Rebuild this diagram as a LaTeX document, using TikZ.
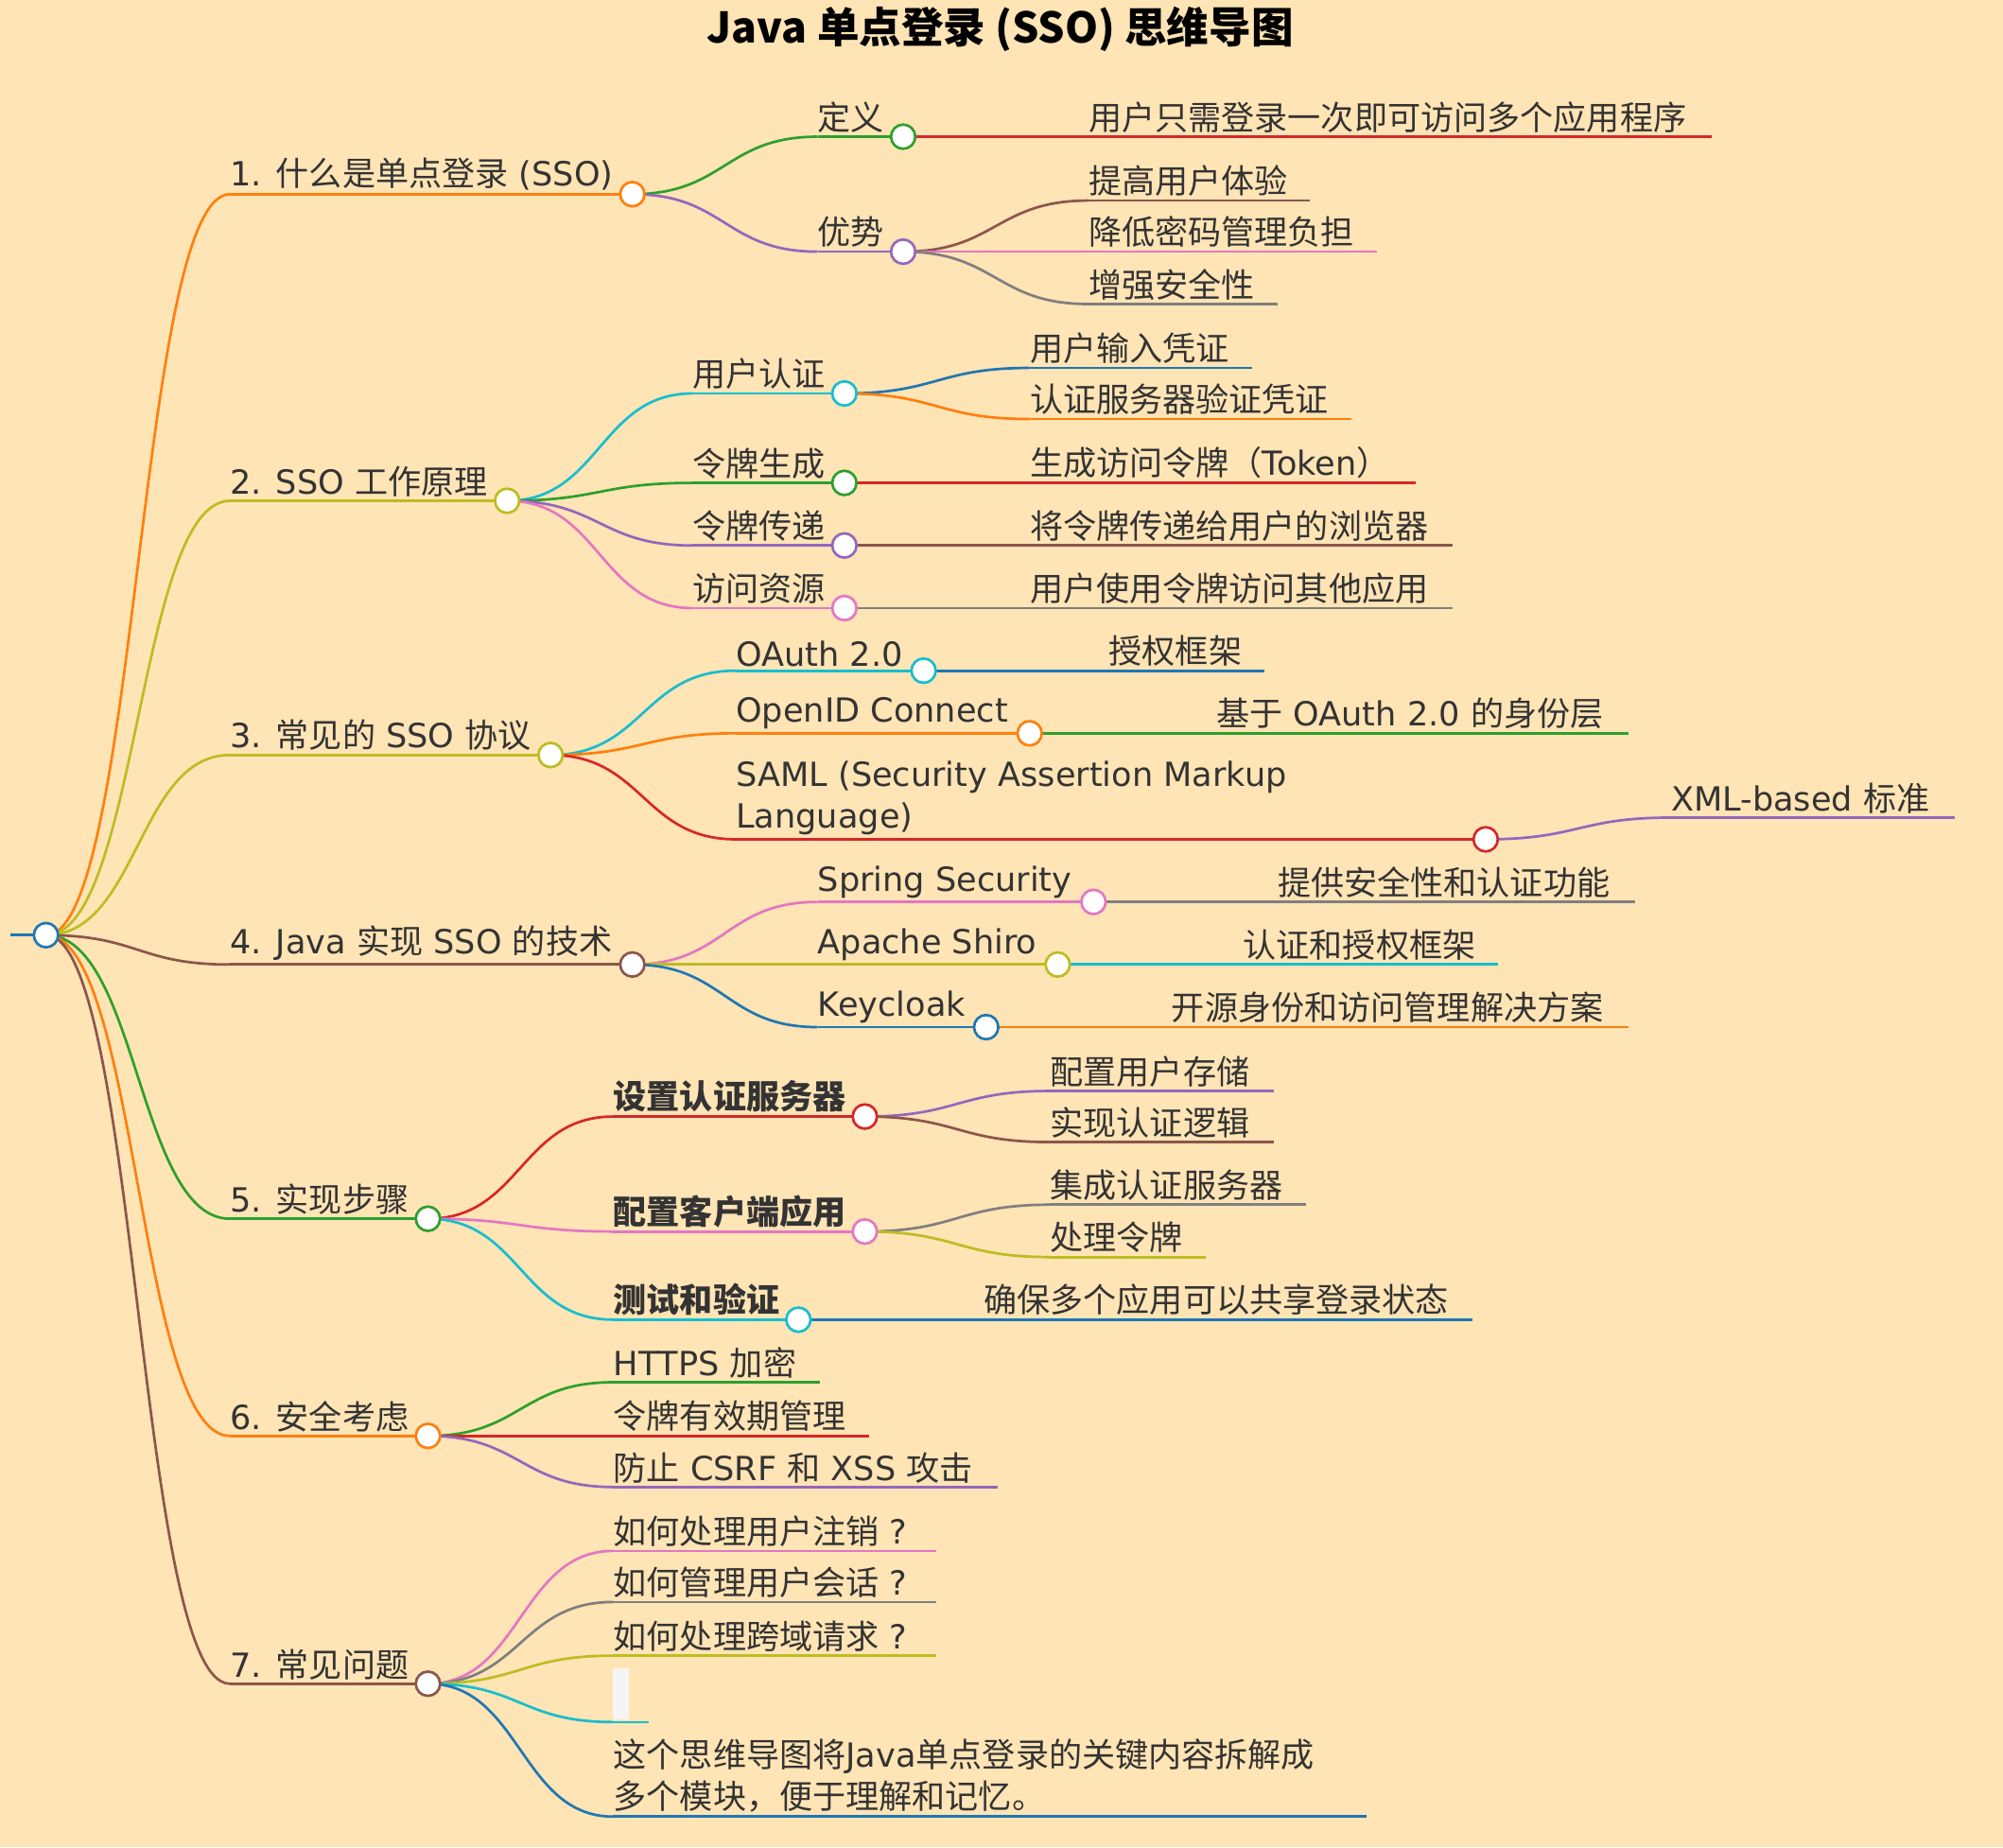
\documentclass[tikz,border=0pt]{standalone}
\usepackage{fontspec}
\usetikzlibrary{calc}
\setmainfont{Noto Sans CJK SC}
\newfontfamily\dv{DejaVu Sans}
\definecolor{bg}{HTML}{FFE4B5}
\definecolor{cB}{HTML}{1F77B4}\definecolor{cO}{HTML}{FF7F0E}\definecolor{cG}{HTML}{2CA02C}
\definecolor{cR}{HTML}{D62728}\definecolor{cP}{HTML}{9467BD}\definecolor{cBr}{HTML}{8C564B}
\definecolor{cPk}{HTML}{E377C2}\definecolor{cGy}{HTML}{7F7F7F}\definecolor{cOl}{HTML}{BCBD22}
\definecolor{cC}{HTML}{17BECF}\definecolor{txt}{HTML}{333333}
\tikzset{edge/.style={line width=2pt},
 lbl/.style={font=\fontsize{26}{33}\selectfont,text=txt,inner xsep=0pt,inner ysep=3pt,align=left},
 dotc/.style={circle,fill=white,line width=2pt,minimum size=19pt,inner sep=0pt}}
\newcommand\LT[1]{{\dv #1}}
\newcommand\mn[6]{\coordinate (#1) at (#2,#3);\coordinate (#1e) at (#4,#3);
 \draw[edge,#5] (#1)--(#1e);
 \node[lbl,anchor=south west] (#1t) at (#2,#3) {#6};}
\newcommand\ed[3]{\draw[edge,#3] let \p1=(#1),\p2=(#2) in (#1) .. controls ({(\x1+\x2)/2},\y1) and ({(\x1+\x2)/2},\y2) .. (#2);}
\newcommand\mydot[2]{\node[dotc,draw=#2] at (#1) {};}
\begin{document}
\begin{tikzpicture}[x=1pt,y=-1pt]
\fill[bg] (0,0) rectangle (1568,1446);
\useasboundingbox (0,0) rectangle (1568,1446);
\node[font=\fontsize{33}{38}\selectfont\bfseries,text=black] (title) at (783,23) {Java 单点登录 (SSO) 思维导图};
\coordinate (root) at (36,732); \coordinate (rootl) at (8,732);
\draw[edge,cB] (rootl)--(root);
% level 1
\mn{a}{180}{152}{495}{cO}{\LT{1. }什么是单点登录\LT{ (SSO)}}
\mn{b}{180}{392}{397}{cOl}{\LT{2. SSO }工作原理}
\mn{c}{180}{591}{431}{cOl}{\LT{3. }常见的\LT{ SSO }协议}
\mn{d}{180}{755}{495}{cBr}{\LT{4. Java }实现\LT{ SSO }的技术}
\mn{e}{180}{954}{335}{cG}{\LT{5. }实现步骤}
\mn{f}{180}{1124}{335}{cO}{\LT{6. }安全考虑}
\mn{g}{180}{1318}{335}{cBr}{\LT{7. }常见问题}
\ed{root}{a}{cO}\ed{root}{b}{cOl}\ed{root}{c}{cOl}\ed{root}{d}{cBr}\ed{root}{e}{cG}\ed{root}{f}{cO}\ed{root}{g}{cBr}
% 1
\mn{a1}{640}{107}{707}{cG}{定义}\ed{ae}{a1}{cG}
\mn{a2}{640}{197}{707}{cP}{优势}\ed{ae}{a2}{cP}
\mn{a11}{852}{107}{1340}{cR}{用户只需登录一次即可访问多个应用程序}\ed{a1e}{a11}{cR}
\mn{a21}{852}{157}{1025}{cBr}{提高用户体验}\ed{a2e}{a21}{cBr}
\mn{a22}{852}{197}{1078}{cPk}{降低密码管理负担}\ed{a2e}{a22}{cPk}
\mn{a23}{852}{238}{1000}{cGy}{增强安全性}\ed{a2e}{a23}{cGy}
% 2
\mn{b1}{542}{308}{661}{cC}{用户认证}\ed{be}{b1}{cC}
\mn{b2}{542}{378}{661}{cG}{令牌生成}\ed{be}{b2}{cG}
\mn{b3}{542}{427}{661}{cP}{令牌传递}\ed{be}{b3}{cP}
\mn{b4}{542}{476}{661}{cPk}{访问资源}\ed{be}{b4}{cPk}
\mn{b11}{806}{288}{980}{cB}{用户输入凭证}\ed{b1e}{b11}{cB}
\mn{b12}{806}{328}{1058}{cO}{认证服务器验证凭证}\ed{b1e}{b12}{cO}
\mn{b21}{806}{378}{1108}{cR}{生成访问令牌（\LT{Token}）}\ed{b2e}{b21}{cR}
\mn{b31}{806}{427}{1137}{cBr}{将令牌传递给用户的浏览器}\ed{b3e}{b31}{cBr}
\mn{b41}{806}{476}{1137}{cGy}{用户使用令牌访问其他应用}\ed{b4e}{b41}{cGy}
% 3
\mn{c1}{576}{525}{723}{cC}{\LT{OAuth 2.0}}\ed{ce}{c1}{cC}
\mn{c2}{576}{574}{806}{cO}{\LT{OpenID Connect}}\ed{ce}{c2}{cO}
\mn{c3}{576}{657}{1163}{cR}{\LT{SAML (Security Assertion Markup}\\\LT{Language)}}\ed{ce}{c3}{cR}
\mn{c11}{868}{525}{990}{cB}{授权框架}\ed{c1e}{c11}{cB}
\mn{c21}{952}{574}{1275}{cG}{基于\LT{ OAuth 2.0 }的身份层}\ed{c2e}{c21}{cG}
\mn{c31}{1308}{640}{1530}{cP}{\LT{XML-based }标准}\ed{c3e}{c31}{cP}
% 4
\mn{d1}{640}{706}{856}{cPk}{\LT{Spring Security}}\ed{de}{d1}{cPk}
\mn{d2}{640}{755}{828}{cOl}{\LT{Apache Shiro}}\ed{de}{d2}{cOl}
\mn{d3}{640}{804}{772}{cB}{\LT{Keycloak}}\ed{de}{d3}{cB}
\mn{d11}{1000}{706}{1280}{cGy}{提供安全性和认证功能}\ed{d1e}{d11}{cGy}
\mn{d21}{973}{755}{1173}{cC}{认证和授权框架}\ed{d2e}{d21}{cC}
\mn{d31}{917}{804}{1275}{cO}{开源身份和访问管理解决方案}\ed{d3e}{d31}{cO}
% 5
\mn{e1}{480}{874}{677}{cR}{\bfseries 设置认证服务器}\ed{ee}{e1}{cR}
\mn{e2}{480}{964}{677}{cPk}{\bfseries 配置客户端应用}\ed{ee}{e2}{cPk}
\mn{e3}{480}{1033}{625}{cC}{\bfseries 测试和验证}\ed{ee}{e3}{cC}
\mn{e11}{822}{854}{997}{cP}{配置用户存储}\ed{e1e}{e11}{cP}
\mn{e12}{822}{894}{997}{cBr}{实现认证逻辑}\ed{e1e}{e12}{cBr}
\mn{e21}{822}{943}{1022}{cGy}{集成认证服务器}\ed{e2e}{e21}{cGy}
\mn{e22}{822}{984}{944}{cOl}{处理令牌}\ed{e2e}{e22}{cOl}
\mn{e31}{770}{1033}{1153}{cB}{确保多个应用可以共享登录状态}\ed{e3e}{e31}{cB}
% 6
\mn{f1}{480}{1082}{642}{cG}{\LT{HTTPS }加密}\ed{fe}{f1}{cG}
\mn{f2}{480}{1124}{680}{cR}{令牌有效期管理}\ed{fe}{f2}{cR}
\mn{f3}{480}{1164}{781}{cP}{防止\LT{ CSRF }和\LT{ XSS }攻击}\ed{fe}{f3}{cP}
% 7
\mn{g1}{480}{1214}{733}{cPk}{如何处理用户注销\LT{ ?}}\ed{ge}{g1}{cPk}
\mn{g2}{480}{1254}{733}{cGy}{如何管理用户会话\LT{ ?}}\ed{ge}{g2}{cGy}
\mn{g3}{480}{1296}{733}{cOl}{如何处理跨域请求\LT{ ?}}\ed{ge}{g3}{cOl}
\coordinate (g4) at (480,1348);\coordinate (g4e) at (508,1348);
\draw[edge,cC] (g4)--(g4e);\ed{ge}{g4}{cC}
\fill[white!92!gray] (g4)++(0,-42) rectangle ++(12,40);
\mn{g5}{480}{1422}{1070}{cB}{这个思维导图将\LT{Java}单点登录的关键内容拆解成\\多个模块，便于理解和记忆。}\ed{ge}{g5}{cB}
% dots
\mydot{root}{cB}
\mydot{ae}{cO}\mydot{be}{cOl}\mydot{ce}{cOl}\mydot{de}{cBr}\mydot{ee}{cG}\mydot{fe}{cO}\mydot{ge}{cBr}
\mydot{a1e}{cG}\mydot{a2e}{cP}
\mydot{b1e}{cC}\mydot{b2e}{cG}\mydot{b3e}{cP}\mydot{b4e}{cPk}
\mydot{c1e}{cC}\mydot{c2e}{cO}\mydot{c3e}{cR}
\mydot{d1e}{cPk}\mydot{d2e}{cOl}\mydot{d3e}{cB}
\mydot{e1e}{cR}\mydot{e2e}{cPk}\mydot{e3e}{cC}
\end{tikzpicture}
\end{document}
